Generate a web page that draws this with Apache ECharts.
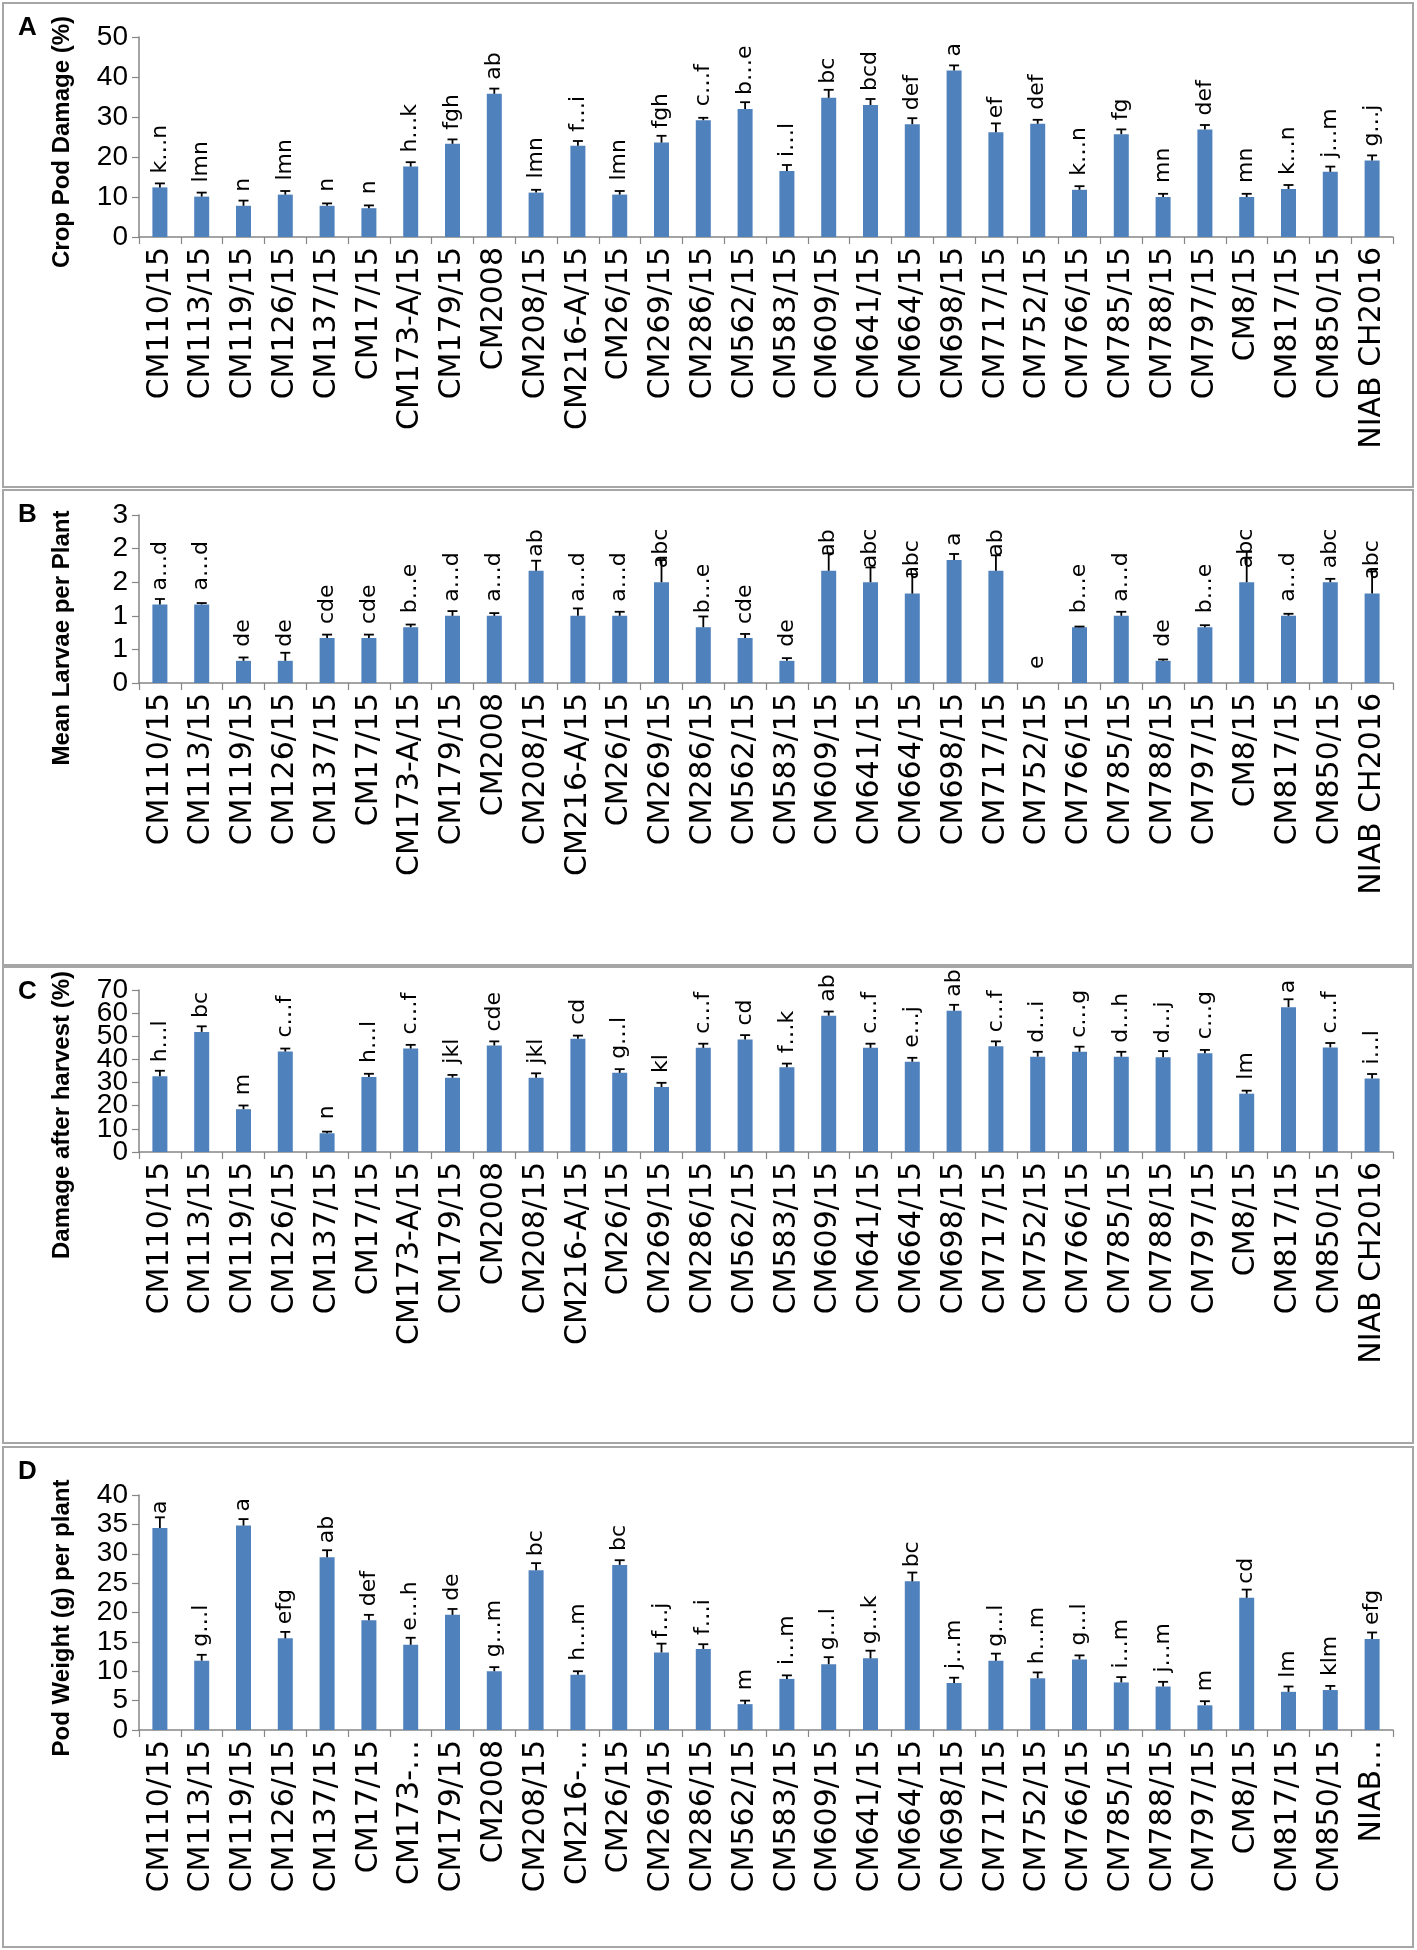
<!DOCTYPE html>
<html><head><meta charset="utf-8">
<script src="https://cdn.jsdelivr.net/npm/echarts@6/dist/echarts.min.js"></script>
<style>html,body{margin:0;padding:0;background:#fff}#c{width:1417px;height:1950px}</style>
</head><body><div id="c"></div>
<script>
const categories = ["CM110/15","CM113/15","CM119/15","CM126/15","CM137/15","CM17/15","CM173-A/15","CM179/15","CM2008","CM208/15","CM216-A/15","CM26/15","CM269/15","CM286/15","CM562/15","CM583/15","CM609/15","CM641/15","CM664/15","CM698/15","CM717/15","CM752/15","CM766/15","CM785/15","CM788/15","CM797/15","CM8/15","CM817/15","CM850/15","NIAB CH2016"];
const categoriesD = ["CM110/15","CM113/15","CM119/15","CM126/15","CM137/15","CM17/15","CM173-…","CM179/15","CM2008","CM208/15","CM216-…","CM26/15","CM269/15","CM286/15","CM562/15","CM583/15","CM609/15","CM641/15","CM664/15","CM698/15","CM717/15","CM752/15","CM766/15","CM785/15","CM788/15","CM797/15","CM8/15","CM817/15","CM850/15","NIAB…"];

const podDamage = [12.4,10.1,7.8,10.6,7.8,7.2,17.6,23.3,35.8,11.1,22.8,10.6,23.6,29.2,32.0,16.5,34.8,33.0,28.2,41.6,26.2,28.3,11.8,25.7,10.0,26.9,10.0,12.0,16.3,19.1];
const podDamageErr = [1.0,1.0,1.3,0.9,0.6,0.7,1.1,1.1,1.3,0.7,1.2,0.9,1.7,0.6,1.7,1.5,2.0,1.5,1.5,1.3,2.2,1.0,0.9,1.2,0.8,1.1,0.8,1.0,1.3,1.3];
const podDamageLetters = ["k…n","lmn","n","lmn","n","n","h…k","fgh","ab","lmn","f…i","lmn","fgh","c…f","b…e","i…l","bc","bcd","def","a","ef","def","k…n","fg","mn","def","mn","k…n","j…m","g…j"];

const larvae = [1.17,1.17,0.33,0.33,0.67,0.67,0.83,1.0,1.0,1.67,1.0,1.0,1.5,0.83,0.67,0.33,1.67,1.5,1.33,1.83,1.67,0,0.83,1.0,0.33,0.83,1.5,1.0,1.5,1.33];
const larvaeErr = [0.08,0.02,0.05,0.12,0.05,0.05,0.04,0.07,0.04,0.15,0.11,0.06,0.33,0.16,0.06,0.04,0.26,0.22,0.29,0.09,0.23,0,0.01,0.06,0.02,0.03,0.46,0.03,0.05,0.33];
const larvaeLetters = ["a…d","a…d","de","de","cde","cde","b…e","a…d","a…d","ab","a…d","a…d","abc","b…e","cde","de","ab","abc","abc","a","ab","e","b…e","a…d","de","b…e","abc","a…d","abc","abc"];

const harvestDamage = [32.7,51.9,18.5,43.4,8.1,32.4,44.7,32.1,46.0,32.1,48.9,34.2,28.1,45.0,48.6,36.6,58.9,45.0,39.0,61.0,45.7,41.2,43.3,41.2,40.9,42.7,25.2,62.6,45.2,31.8];
const harvestDamageErr = [2.4,2.4,1.6,1.3,0.7,1.4,1.6,1.2,1.8,1.9,1.4,1.6,1.8,1.8,1.9,1.6,1.8,1.8,1.7,2.6,2.1,2.1,2.2,2.1,2.7,1.4,1.3,3.4,1.9,1.9];
const harvestLetters = ["h…l","bc","m","c…f","n","h…l","c…f","jkl","cde","jkl","cd","g…l","kl","c…f","cd","f…k","ab","c…f","e…j","ab","c…f","d…i","c…g","d…h","d…j","c…g","lm","a","c…f","i…l"];
const harvestTicks = [0, 10, 20, 30, 40, 50, 60, 70];

const podWeight = [34.4,11.8,34.8,15.6,29.4,18.7,14.5,19.6,10.0,27.2,9.4,28.1,13.2,13.8,4.4,8.7,11.2,12.2,25.3,8.0,11.8,8.8,12.0,8.1,7.4,4.2,22.5,6.5,6.8,15.5];
const podWeightErr = [1.8,1.0,1.1,1.1,1.2,0.9,1.2,1.0,0.7,1.2,0.6,0.8,1.5,0.8,0.6,0.6,1.2,1.3,1.5,0.9,1.2,1.0,0.7,0.9,0.8,0.7,1.4,0.9,0.7,1.1];
const podWeightLetters = ["a","g…l","a","efg","ab","def","e…h","de","g…m","bc","h…m","bc","f…j","f…i","m","i…m","g…l","g…k","bc","j…m","g…l","h…m","g…l","i…m","j…m","m","cd","lm","klm","efg"];

const panelLetters = ["A","B","C","D"];
const yTitles = ["Crop Pod Damage (%)","Mean Larvae per Plant","Damage after harvest (%)","Pod Weight (g) per plant"];

const panels = [
  {cats: categories, vals: podDamage, errs: podDamageErr, letters: podDamageLetters, max: 50, interval: 10, top: 37, height: 200, box: [3, 487], titleY: 142},
  {cats: categories, vals: larvae, errs: larvaeErr, letters: larvaeLetters, max: 2.5, interval: 0.5, top: 515, height: 168, box: [490, 965], titleY: 638, fmt: v => String(Math.round(v))},
  {cats: categories, vals: harvestDamage, errs: harvestDamageErr, letters: harvestLetters, max: 70, interval: 10, top: 990, height: 162, box: [967, 1443], titleY: 1115, customTicks: harvestTicks},
  {cats: categoriesD, vals: podWeight, errs: podWeightErr, letters: podWeightLetters, max: 40, interval: 5, top: 1495, height: 235, box: [1447, 1947], titleY: 1618}
];

const AX = '#868686';
const TICK_FONT = '28px "Liberation Sans Narrow", "Liberation Sans"';
const grid = [], xAxis = [], yAxis = [], series = [], graphic = [];
panels.forEach((p, k) => {
  grid.push({left: 139, width: 1254, top: p.top, height: p.height});
  xAxis.push({type: 'category', gridIndex: k, data: p.cats, boundaryGap: true,
    axisLine: {lineStyle: {color: AX, width: 1.5}},
    axisTick: {show: true, alignWithLabel: false, length: 7, lineStyle: {color: AX, width: 1.2}},
    axisLabel: {interval: 0, rotate: 90, fontFamily: 'DejaVu Sans', fontSize: 30, color: '#000', margin: 10, hideOverlap: false}});
  yAxis.push({type: 'value', gridIndex: k, min: 0, max: p.max, interval: p.interval,
    axisLine: {show: true, lineStyle: {color: AX, width: 1.5}},
    axisTick: {show: true, length: 7, lineStyle: {color: AX, width: 1.2}},
    splitLine: {show: false},
    axisLabel: {show: !p.customTicks, fontFamily: 'Liberation Sans Narrow, Liberation Sans', fontSize: 28, color: '#000', margin: 11,
      showMinLabel: true, showMaxLabel: true, hideOverlap: false,
      formatter: p.fmt ? p.fmt : (v => String(v))}});
  series.push({type: 'bar', xAxisIndex: k, yAxisIndex: k, data: p.vals, barWidth: 15,
    itemStyle: {color: '#4F81BD'},
    label: {show: true, position: 'top', distance: 14, rotate: 90, align: 'left', verticalAlign: 'middle',
      fontFamily: 'DejaVu Sans', fontSize: 22, color: '#000',
      formatter: (q) => p.letters[q.dataIndex]}});
  series.push({type: 'custom', xAxisIndex: k, yAxisIndex: k, z: 5,
    data: p.vals.map((v, i) => [i, v, p.errs[i]]),
    encode: {x: 0, y: 1},
    renderItem: (params, api) => {
      const i = api.value(0), v = api.value(1), e = api.value(2);
      if (!e) return null;
      const b = api.coord([i, v]);
      const t = api.coord([i, v + e]);
      return {type: 'group', children: [
        {type: 'line', shape: {x1: b[0], y1: b[1], x2: t[0], y2: t[1]}, style: {stroke: '#000', lineWidth: 1.8}},
        {type: 'line', shape: {x1: t[0] - 5, y1: t[1], x2: t[0] + 5, y2: t[1]}, style: {stroke: '#000', lineWidth: 1.8}}
      ]};
    }});
  if (p.customTicks) {
    // tick labels drawn at the axis' own scale positions (densely packed, as in the original)
    series.push({type: 'custom', xAxisIndex: k, yAxisIndex: k, silent: true, clip: false,
      data: p.customTicks.map(v => [0, v]),
      encode: {x: 0, y: 1},
      renderItem: (params, api) => {
        const v = api.value(1);
        const pt = api.coord([0, v]);
        const half = api.size([1, 0])[0] / 2;
        return {type: 'text', x: pt[0] - half - 11, y: pt[1],
          style: {text: String(v), font: TICK_FONT, fill: '#000', align: 'right', verticalAlign: 'middle'}};
      }});
  }
  graphic.push({type: 'rect', shape: {x: 3, y: p.box[0], width: 1410, height: p.box[1] - p.box[0]},
    style: {fill: 'none', stroke: '#A6A6A6', lineWidth: 2}, silent: true});
  graphic.push({type: 'text', left: 18, top: p.box[0] + 12,
    style: {text: panelLetters[k], font: 'bold 26px "Liberation Sans"', fill: '#000'}});
  graphic.push({type: 'text', x: 62, y: p.titleY, rotation: Math.PI / 2,
    style: {text: yTitles[k], font: 'bold 24px "Liberation Sans Narrow", "Liberation Sans"', fill: '#000',
      align: 'center', verticalAlign: 'middle'}});
});

const chart = echarts.init(document.getElementById('c'), null, {renderer: 'canvas'});
chart.setOption({animation: false, backgroundColor: '#fff', grid, xAxis, yAxis, series, graphic});
</script></body></html>
